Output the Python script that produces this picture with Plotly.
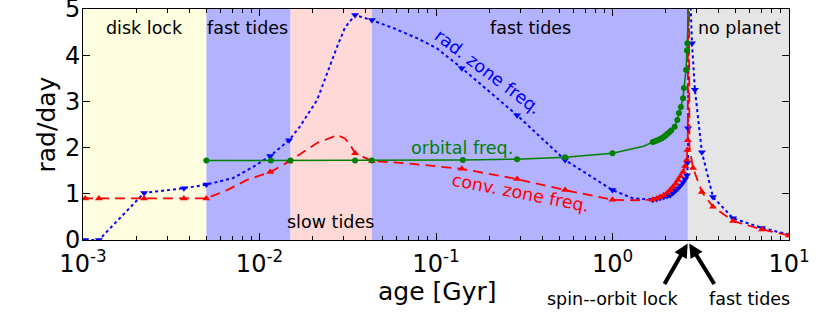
import plotly.graph_objects as go
import numpy as np

# ---------------- data ----------------
# radiative zone frequency (blue, dotted)
rad_age = [0.00103, 0.00123, 0.00222, 0.00373, 0.005, 0.00708, 0.00918, 0.0115, 0.0147,
           0.0169, 0.0212, 0.0241, 0.0275, 0.0305, 0.0348, 0.0433, 0.057, 0.078, 0.101,
           0.140, 0.231, 0.288, 0.539, 1.0, 1.31, 1.69, 1.86, 2.12, 2.35, 2.51, 2.64,
           2.68, 2.70, 2.74, 2.82, 2.93, 3.21, 3.71, 4.82, 7.03, 10.0]
rad_freq = [0.0, 0.0, 1.02, 1.12, 1.2, 1.34, 1.58, 1.82, 2.16,
            2.45, 3.03, 3.6, 4.18, 4.6, 4.87, 4.76, 4.59, 4.37, 4.15,
            3.72, 3.02, 2.7, 1.73, 1.08, 0.9, 0.87, 0.91, 0.97, 1.12, 1.25, 1.4,
            1.7, 5.6, 5.6, 4.26, 3.25, 1.9, 0.93, 0.47, 0.26, 0.12]
rad_mark_age = [0.00103, 0.00123, 0.00222, 0.00373, 0.005, 0.0115, 0.0147, 0.0348, 0.0433,
                0.140, 0.288, 0.539, 1.0, 1.69, 1.78, 1.86, 1.95, 2.04, 2.12, 2.2, 2.28,
                2.35, 2.43, 2.51, 2.58, 2.64, 2.66, 2.68, 2.82, 2.93, 3.21, 3.71, 4.82, 7.03]
rad_mark_freq = [0.0, 0.0, 1.02, 1.12, 1.2, 1.82, 2.16, 4.87, 4.76,
                 3.72, 2.7, 1.73, 1.08, 0.87, 0.89, 0.91, 0.93, 0.95, 0.97, 1.02, 1.07,
                 1.12, 1.18, 1.25, 1.32, 1.4, 1.67, 2.42, 4.26, 3.25, 1.9, 0.93, 0.47, 0.26]

# convective zone frequency (red, dashed)
conv_age = [0.001, 0.00123, 0.00222, 0.00373, 0.005, 0.00655, 0.0085, 0.0115, 0.0147,
            0.0212, 0.0275, 0.0305, 0.0326, 0.0348, 0.0433, 0.0686, 0.140, 0.288, 0.539,
            1.0, 1.31, 1.69, 1.86, 2.12, 2.35, 2.51, 2.64, 2.67, 2.68, 2.71, 2.73, 2.86,
            3.21, 3.71, 4.82, 7.03, 10.0]
conv_freq = [0.9, 0.9, 0.9, 0.9, 0.9, 1.08, 1.3, 1.47, 1.7,
             2.1, 2.27, 2.2, 2.06, 1.88, 1.71, 1.66, 1.54, 1.32, 1.08,
             0.87, 0.86, 0.87, 0.93, 1.08, 1.3, 1.47, 1.73, 2.2, 5.6, 5.6, 2.0, 1.56,
             1.04, 0.72, 0.41, 0.23, 0.1]
conv_mark_age = [0.00103, 0.00123, 0.00222, 0.00373, 0.005, 0.0115, 0.0147, 0.0348, 0.0433,
                 0.140, 0.288, 0.539, 1.0, 1.69, 1.78, 1.86, 1.95, 2.04, 2.12, 2.2, 2.28,
                 2.35, 2.43, 2.51, 2.58, 2.64, 2.66, 2.67, 2.86, 3.21, 3.71, 4.82, 7.03, 10.0]
conv_mark_freq = [0.9, 0.9, 0.9, 0.9, 0.9, 1.47, 1.7, 1.88, 1.71,
                  1.54, 1.32, 1.08, 0.87, 0.87, 0.9, 0.93, 0.97, 1.02, 1.08, 1.15, 1.22,
                  1.3, 1.38, 1.47, 1.6, 1.73, 1.95, 2.16, 1.56, 1.04, 0.72, 0.41, 0.23, 0.1]

# orbital frequency (green, solid)
orb_age = [0.005, 0.0116, 0.015, 0.0348, 0.0433, 0.142, 0.288, 0.539, 1.0, 1.5, 1.69,
           1.85, 2.0, 2.15, 2.25, 2.33, 2.38, 2.44, 2.51, 2.54, 2.61, 2.64, 2.655, 2.67, 2.68]
orb_freq = [1.72, 1.72, 1.72, 1.72, 1.72, 1.73, 1.75, 1.79, 1.88, 2.03, 2.12,
            2.18, 2.26, 2.37, 2.45, 2.6, 2.75, 2.88, 3.07, 3.29, 3.68, 4.1, 4.26, 4.6, 5.2]
orb_mark_age = [0.005, 0.0116, 0.015, 0.0348, 0.0433, 0.142, 0.288, 0.539, 1.0, 1.69, 1.74,
                1.8, 1.85, 1.9, 1.95, 2.0, 2.05, 2.1, 2.15, 2.25, 2.33, 2.38, 2.44, 2.51,
                2.54, 2.61, 2.64, 2.655]
orb_mark_freq = [1.72, 1.72, 1.72, 1.72, 1.72, 1.73, 1.75, 1.79, 1.88, 2.12, 2.14,
                 2.16, 2.18, 2.2, 2.23, 2.26, 2.3, 2.33, 2.37, 2.45, 2.6, 2.75, 2.88, 3.07,
                 3.29, 3.68, 4.1, 4.26]

# evolutionary phases (start, end, colour)
phase_start = [0.001, 0.005, 0.015, 0.0433, 2.67, 2.69]
phase_end = [0.005, 0.015, 0.0433, 2.67, 2.69, 10.0]
phase_color = ["#fffde0", "#b2b2ff", "#ffd8d8", "#b2b2ff", "#b8e0b8", "#e5e5e5"]

x_tickvals = [0.001, 0.01, 0.1, 1, 10]
x_ticktext = ["10<sup>-3</sup>", "10<sup>-2</sup>", "10<sup>-1</sup>", "10<sup>0</sup>", "10<sup>1</sup>"]
y_tickvals = [0, 1, 2, 3, 4, 5]

FONT = "DejaVu Sans"

fig = go.Figure()

for s, e, c in zip(phase_start, phase_end, phase_color):
    fig.add_shape(type="rect", xref="x", yref="paper", x0=s, x1=e, y0=0, y1=1,
                  fillcolor=c, line=dict(width=0), layer="below")

BLUE = "#0000ff"
RED = "#ff0000"
GREEN = "#008000"

fig.add_trace(go.Scatter(x=rad_age, y=rad_freq, mode="lines",
                         line=dict(color=BLUE, width=2, dash="dot"), hoverinfo="skip"))
fig.add_trace(go.Scatter(x=rad_mark_age, y=rad_mark_freq, mode="markers",
                         marker=dict(symbol="triangle-down", size=7, color=BLUE)))
fig.add_trace(go.Scatter(x=conv_age, y=conv_freq, mode="lines",
                         line=dict(color=RED, width=1.8, dash="10px,6px"), hoverinfo="skip"))
fig.add_trace(go.Scatter(x=conv_mark_age, y=conv_mark_freq, mode="markers",
                         marker=dict(symbol="triangle-up", size=7, color=RED)))
fig.add_trace(go.Scatter(x=orb_age, y=orb_freq, mode="lines",
                         line=dict(color=GREEN, width=1.5), hoverinfo="skip"))
fig.add_trace(go.Scatter(x=orb_mark_age, y=orb_mark_freq, mode="markers",
                         marker=dict(symbol="circle", size=6, color=GREEN)))

def lbl(x, y, text, color="black", size=17.5, angle=0):
    fig.add_annotation(x=np.log10(x), y=y, xref="x", yref="y", text=text, showarrow=False,
                       font=dict(family=FONT, size=size, color=color), textangle=angle,
                       xanchor="center", yanchor="middle")

lbl(0.00222, 4.6, "disk lock")
lbl(0.0086, 4.6, "fast tides")
lbl(0.0251, 0.39, "slow tides")
lbl(0.341, 4.6, "fast tides")
lbl(5.21, 4.6, "no planet")
lbl(0.197, 3.64, "rad. zone freq.", color=BLUE, angle=37)
lbl(0.14, 1.99, "orbital freq.", color=GREEN)
lbl(0.303, 1.02, "conv. zone freq.", color=RED, angle=11)

# axis titles
fig.add_annotation(x=0.501, y=-0.225, xref="paper", yref="paper", text="age [Gyr]",
                   showarrow=False, font=dict(family=FONT, size=25, color="black"),
                   xanchor="center", yanchor="middle")
fig.add_annotation(x=-0.051, y=0.5, xref="paper", yref="paper", text="rad/day",
                   showarrow=False, font=dict(family=FONT, size=25, color="black"),
                   textangle=-90, xanchor="center", yanchor="middle")

# bottom labels with arrows
fig.add_annotation(x=np.log10(1.0), y=-0.255, xref="x", yref="paper", text="spin--orbit lock",
                   showarrow=False, font=dict(family=FONT, size=17.5, color="black"),
                   xanchor="center", yanchor="middle")
fig.add_annotation(x=np.log10(6.0), y=-0.255, xref="x", yref="paper", text="fast tides",
                   showarrow=False, font=dict(family=FONT, size=17.5, color="black"),
                   xanchor="center", yanchor="middle")
fig.add_annotation(x=np.log10(2.665), y=-0.015, xref="x", yref="paper", text="",
                   showarrow=True, ax=-24, ay=42, arrowhead=2, arrowsize=0.7,
                   arrowwidth=4, arrowcolor="black")
fig.add_annotation(x=np.log10(2.72), y=-0.015, xref="x", yref="paper", text="",
                   showarrow=True, ax=26, ay=42, arrowhead=2, arrowsize=0.7,
                   arrowwidth=4, arrowcolor="black")

minor_vals = [m * 10.0 ** k for k in range(-3, 1) for m in range(2, 10)]

fig.update_xaxes(type="log", range=[-3, 1], tickvals=x_tickvals, ticktext=x_ticktext,
                 ticks="inside", ticklen=7, tickwidth=1, tickcolor="black",
                 showline=True, linecolor="black", linewidth=1, mirror="allticks",
                 showgrid=False, zeroline=False, automargin=False, ticklabelstandoff=2,
                 minor=dict(tickvals=minor_vals, ticks="inside", ticklen=4, tickcolor="black",
                            showgrid=False),
                 tickfont=dict(family=FONT, size=24, color="black"))
fig.update_yaxes(range=[0, 5.0005], tickvals=y_tickvals,
                 ticks="inside", ticklen=7, tickwidth=1, tickcolor="black",
                 showline=True, linecolor="black", linewidth=1, mirror="allticks",
                 showgrid=False, zeroline=False, automargin=False, ticklabelstandoff=-3,
                 ticklabeloverflow="allow",
                 tickfont=dict(family=FONT, size=24, color="black"))

fig.update_layout(width=830, height=312, margin=dict(l=83, r=41, t=9, b=72),
                  plot_bgcolor="white", paper_bgcolor="white", showlegend=False,
                  font=dict(family=FONT))

fig.write_html("out.html", config={"displayModeBar": False},
               post_script="document.body.style.margin='0';")
